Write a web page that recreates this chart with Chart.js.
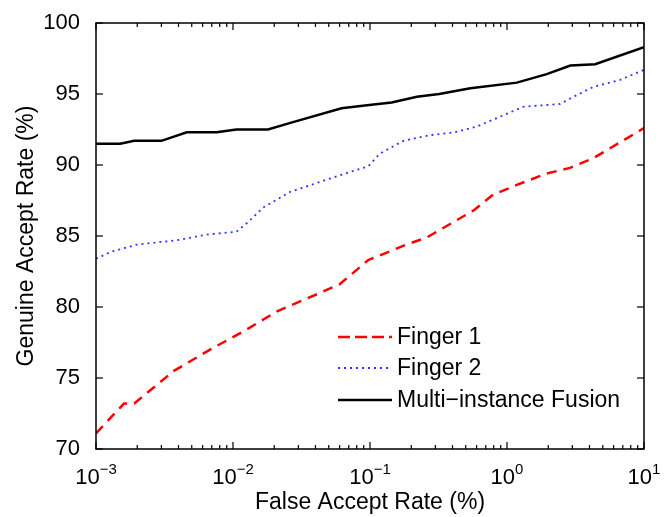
<!DOCTYPE html>
<html>
<head>
<meta charset="utf-8">
<script src="https://cdn.jsdelivr.net/npm/chart.js@4.4.1/dist/chart.umd.min.js"></script>
<style>
    body { margin: 0; background: #fff; }
    #wrap { width: 666px; height: 517px; }
</style>
</head>
<body>
<div id="wrap"><canvas id="rocChart"></canvas></div>
<script>
// False accept rate (%) for each curve
const finger1Far = [0.001, 0.0016, 0.0019, 0.0037, 0.0068, 0.012, 0.021, 0.041, 0.06, 0.097, 0.185, 0.26, 0.57, 0.79, 1.18, 1.95, 2.88, 4.3, 6.7, 10];
const finger1Gar = [71.1, 73.2, 73.2, 75.5, 77.0, 78.3, 79.7, 80.9, 81.6, 83.3, 84.4, 84.9, 86.8, 87.9, 88.6, 89.4, 89.8, 90.5, 91.6, 92.6];

const finger2Far = [0.001, 0.0013, 0.002, 0.0039, 0.0064, 0.0106, 0.0126, 0.0166, 0.026, 0.046, 0.071, 0.097, 0.118, 0.175, 0.274, 0.41, 0.6, 0.89, 1.31, 2.44, 3.05, 4.27, 6.7, 10];
const finger2Gar = [83.4, 83.9, 84.4, 84.7, 85.1, 85.3, 85.9, 87.0, 88.1, 88.9, 89.5, 89.9, 90.8, 91.7, 92.1, 92.3, 92.7, 93.4, 94.1, 94.3, 94.8, 95.5, 96.0, 96.7];

const fusionFar = [0.001, 0.0015, 0.0019, 0.003, 0.0046, 0.0076, 0.0106, 0.018, 0.027, 0.062, 0.095, 0.144, 0.22, 0.32, 0.54, 1.18, 1.95, 2.9, 4.4, 10];
const fusionGar = [91.5, 91.5, 91.7, 91.7, 92.3, 92.3, 92.5, 92.5, 93.0, 94.0, 94.2, 94.4, 94.8, 95.0, 95.4, 95.8, 96.4, 97.0, 97.1, 98.3];

const yTicks = [70, 75, 80, 85, 90, 95, 100];
const xExponents = [-3, -2, -1, 0, 1];
const seriesNames = ["Finger 1", "Finger 2", "Multi\u2212instance Fusion"];

const fontFamily = "'Liberation Sans', Arial, Helvetica, sans-serif";

function toPoints(xs, ys) {
    return xs.map((v, i) => ({ x: v, y: ys[i] }));
}

// frame, inward tick marks, x labels with superscripts, legend
const matlabAxes = {
    id: "matlabAxes",
    afterDatasetsDraw(chart) {
        const ctx = chart.ctx;
        const a = chart.chartArea;
        const xs = chart.scales.x;
        const ys = chart.scales.y;

        ctx.save();
        ctx.strokeStyle = "#000";
        ctx.lineWidth = 1.5;
        ctx.setLineDash([]);
        ctx.strokeRect(a.left, a.top, a.right - a.left, a.bottom - a.top);

        function seg(x1, y1, x2, y2) {
            ctx.beginPath();
            ctx.moveTo(x1, y1);
            ctx.lineTo(x2, y2);
            ctx.stroke();
        }

        ctx.lineWidth = 1.2;
        yTicks.forEach((v) => {
            const py = ys.getPixelForValue(v);
            seg(a.left, py, a.left + 7, py);
            seg(a.right, py, a.right - 7, py);
        });

        for (let e = -3; e <= 0; e++) {
            for (let k = 1; k <= 9; k++) {
                const px = xs.getPixelForValue(k * Math.pow(10, e));
                const len = k === 1 ? 7 : 4;
                seg(px, a.bottom, px, a.bottom - len);
                seg(px, a.top, px, a.top + len);
            }
        }
        const lastX = xs.getPixelForValue(10);
        seg(lastX, a.bottom, lastX, a.bottom - 7);
        seg(lastX, a.top, lastX, a.top + 7);

        // x tick labels: 10 with raised exponent
        ctx.fillStyle = "#000";
        ctx.textBaseline = "alphabetic";
        xExponents.forEach((e) => {
            const px = xs.getPixelForValue(Math.pow(10, e));
            const base = "10";
            const exp = e < 0 ? "\u2212" + Math.abs(e) : String(e);
            ctx.font = "22px " + fontFamily;
            const wb = ctx.measureText(base).width;
            ctx.font = "15px " + fontFamily;
            const we = ctx.measureText(exp).width;
            const start = px - (wb + we) / 2;
            ctx.font = "22px " + fontFamily;
            ctx.textAlign = "left";
            ctx.fillText(base, start, 484);
            ctx.font = "15px " + fontFamily;
            ctx.fillText(exp, start + wb, 474);
        });

        // legend
        const rows = [337, 368, 400];
        chart.data.datasets.forEach((ds, i) => {
            ctx.strokeStyle = ds.borderColor;
            ctx.lineWidth = ds.borderWidth;
            ctx.setLineDash(i === 0 ? [12, 5] : ds.borderDash || []);
            seg(338, rows[i], 392, rows[i]);
            ctx.setLineDash([]);
            ctx.fillStyle = "#000";
            ctx.font = "23px " + fontFamily;
            ctx.textAlign = "left";
            ctx.textBaseline = "middle";
            ctx.fillText(seriesNames[i], 397, rows[i] + 1);
        });
        ctx.restore();
    },
};

const ctx = document.getElementById("rocChart").getContext("2d");
const rocChart = new Chart(ctx, {
    type: "line",
    data: {
        datasets: [
            {
                label: seriesNames[0],
                data: toPoints(finger1Far, finger1Gar),
                borderColor: "#ff0000",
                borderWidth: 2.5,
                borderDash: [10, 7],
                pointRadius: 0,
                fill: false,
                tension: 0,
            },
            {
                label: seriesNames[1],
                data: toPoints(finger2Far, finger2Gar),
                borderColor: "#3333ff",
                borderWidth: 1.8,
                borderDash: [2, 4],
                pointRadius: 0,
                fill: false,
                tension: 0,
            },
            {
                label: seriesNames[2],
                data: toPoints(fusionFar, fusionGar),
                borderColor: "#000000",
                borderWidth: 2.5,
                pointRadius: 0,
                fill: false,
                tension: 0,
            },
        ],
    },
    options: {
        responsive: true,
        maintainAspectRatio: false,
        animation: false,
        layout: {
            padding: { top: 23, right: 22, left: 0, bottom: 0 },
        },
        scales: {
            x: {
                type: "logarithmic",
                min: 0.001,
                max: 10,
                grid: { display: false },
                border: { display: false },
                ticks: { display: false },
                title: {
                    display: true,
                    text: "False Accept Rate (%)",
                    color: "#000",
                    font: { family: fontFamily, size: 23 },
                    padding: { top: 0, bottom: 1 },
                },
                afterFit: (scale) => {
                    scale.height = 68;
                },
            },
            y: {
                min: 70,
                max: 100,
                grid: { display: false },
                border: { display: false },
                afterBuildTicks: (scale) => {
                    scale.ticks = yTicks.map((v) => ({ value: v }));
                },
                ticks: {
                    color: "#000",
                    padding: 8,
                    font: { family: fontFamily, size: 22 },
                },
                title: {
                    display: true,
                    text: "Genuine Accept Rate (%)",
                    color: "#000",
                    font: { family: fontFamily, size: 23 },
                    padding: { top: 13, bottom: 0 },
                },
                afterFit: (scale) => {
                    scale.width = 96;
                },
            },
        },
        plugins: {
            legend: { display: false },
            tooltip: { enabled: false },
        },
    },
    plugins: [matlabAxes],
});
</script>
</body>
</html>
